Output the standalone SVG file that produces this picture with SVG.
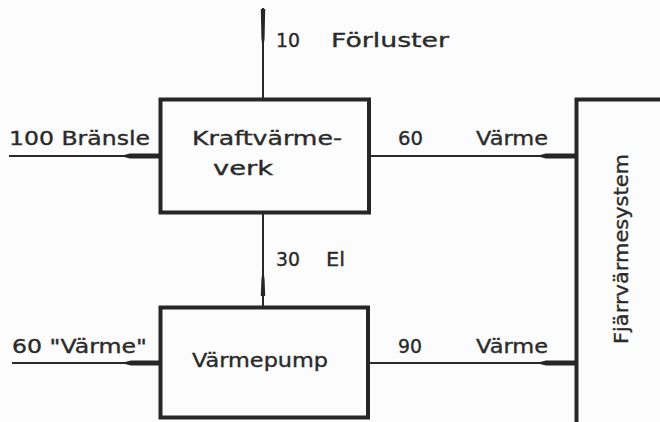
<svg xmlns="http://www.w3.org/2000/svg" width="660" height="422" viewBox="0 0 660 422">
  <style>
    .box { fill: none; stroke: #262626; stroke-width: 4; }
    .flow { fill: none; stroke: #2a2a2a; stroke-width: 2; }
    .head { fill: #262626; stroke: none; }
    .lbl { font-family: "DejaVu Sans", "Liberation Sans", sans-serif; font-size: 19.5px; fill: #2a2a2a; stroke: #2a2a2a; stroke-width: 0.35; }
  </style>
  <rect x="0" y="0" width="660" height="422" fill="#fcfcfc"/>

  <!-- connectors -->
  <g id="connectors">
    <!-- losses, upward -->
    <line class="flow" x1="263" y1="8" x2="263" y2="99"/>
    <polygon class="head" points="260.8,9 265.2,9 264.6,38 263,52 261.4,38"/>
    <!-- fuel in -->
    <line class="flow" x1="9" y1="156" x2="160" y2="156"/>
    <polygon class="head" points="120,156 130,153.6 160,153.6 160,158.4 130,158.4"/>
    <!-- heat from CHP to network -->
    <line class="flow" x1="369" y1="156" x2="576" y2="156"/>
    <polygon class="head" points="536,156 546,153.6 576,153.6 576,158.4 546,158.4"/>
    <!-- electricity down to heat pump -->
    <line class="flow" x1="263" y1="213" x2="263" y2="307"/>
    <polygon class="head" points="260.8,296 265.2,296 264.6,280 263,267 261.4,280"/>
    <!-- ambient heat in -->
    <line class="flow" x1="12" y1="363" x2="160" y2="363"/>
    <polygon class="head" points="121,363 131,360.6 160,360.6 160,365.4 131,365.4"/>
    <!-- heat from pump to network -->
    <line class="flow" x1="368" y1="363" x2="576" y2="363"/>
    <polygon class="head" points="536,363 546,360.6 576,360.6 576,365.4 546,365.4"/>
  </g>

  <!-- flow labels -->
  <g id="labels">
    <text class="lbl" x="276" y="47" textLength="24" lengthAdjust="spacingAndGlyphs">10</text>
    <text class="lbl" x="331" y="47" textLength="118" lengthAdjust="spacingAndGlyphs">Förluster</text>
    <text class="lbl" x="9" y="145" textLength="141" lengthAdjust="spacingAndGlyphs">100 Bränsle</text>
    <text class="lbl" x="398" y="145" textLength="25" lengthAdjust="spacingAndGlyphs">60</text>
    <text class="lbl" x="476" y="145" textLength="72" lengthAdjust="spacingAndGlyphs">Värme</text>
    <text class="lbl" x="276" y="266" textLength="24" lengthAdjust="spacingAndGlyphs">30</text>
    <text class="lbl" x="326" y="266" textLength="19" lengthAdjust="spacingAndGlyphs">El</text>
    <text class="lbl" x="12" y="353" textLength="135" lengthAdjust="spacingAndGlyphs">60 "Värme"</text>
    <text class="lbl" x="398" y="353" textLength="24" lengthAdjust="spacingAndGlyphs">90</text>
    <text class="lbl" x="476" y="353" textLength="72" lengthAdjust="spacingAndGlyphs">Värme</text>
  </g>

  <!-- combined heat and power plant -->
  <g id="kraftvarmeverk">
    <rect class="box" x="160.5" y="99.5" width="208.5" height="113"/>
    <text class="lbl" x="192" y="145" textLength="150" lengthAdjust="spacingAndGlyphs">Kraftvärme-</text>
    <text class="lbl" x="213" y="175" textLength="60" lengthAdjust="spacingAndGlyphs">verk</text>
  </g>

  <!-- heat pump -->
  <g id="varmepump">
    <rect class="box" x="160.5" y="307.5" width="207.5" height="110"/>
    <text class="lbl" x="192" y="367" textLength="136" lengthAdjust="spacingAndGlyphs">Värmepump</text>
  </g>

  <!-- district heating network -->
  <g id="fjarrvarmesystem">
    <rect class="box" x="576.5" y="99.5" width="120" height="360"/>
    <text class="lbl" transform="translate(628,249) rotate(-90)" text-anchor="middle" textLength="190" lengthAdjust="spacingAndGlyphs">Fjärrvärmesystem</text>
  </g>
</svg>
